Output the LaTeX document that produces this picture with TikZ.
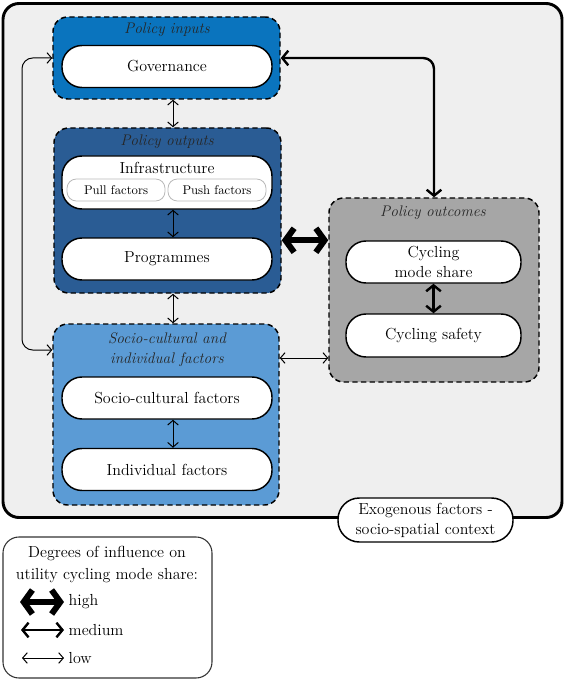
\documentclass[tikz,border=0pt]{standalone}
\usetikzlibrary{arrows.meta,positioning}

\definecolor{inblue}{RGB}{10,116,190}
\definecolor{outblue}{RGB}{42,92,148}
\definecolor{socblue}{RGB}{91,155,213}
\definecolor{outgray}{RGB}{166,166,166}
\definecolor{exogray}{RGB}{239,239,239}

\tikzset{
	pill/.style={draw, fill=white, line width=1.1pt, rounded corners=15pt, minimum width=210*0.75pt, minimum height=42*0.75pt, inner sep=0pt, align=center, font=\fontsize{12}{15}\selectfont},
	subpill/.style={draw=gray!55, fill=white, line width=0.6pt, rounded corners=7pt, minimum width=98*0.75pt, minimum height=22*0.75pt, inner sep=0pt, font=\fontsize{9.5}{11}\selectfont},
	groupbox/.style={draw, dash pattern=on 4pt off 2.5pt, line width=1.1pt, rounded corners=11pt, inner sep=0pt},
	grouplabel/.style={align=center, text=black!85, font=\fontsize{11.5}{15}\selectfont\itshape},
	low/.style={line width=0.75pt, >={Straight Barb[length=3.5pt,width=8pt]}, <->},
	medium/.style={line width=1.8pt, >={Straight Barb[length=4.5pt,width=11pt]}, <->},
	high/.style={line width=4.5pt, line join=miter, >={Straight Barb[length=6.5pt,width=18pt]}, <->},
}

\begin{document}
\begin{tikzpicture}[x=0.75pt, y=-0.75pt, line join=round]
				\useasboundingbox (0,0) rectangle (567,681);
				
				% Exogenous context (outer frame)
				\node[draw, fill=exogray, line width=2.2pt, rounded corners=12pt, minimum width=559*0.75pt, minimum height=514*0.75pt] (exo) at (282.5,260.5) {};
				
				% Group boxes
				\node[groupbox, fill=inblue, minimum width=227*0.75pt, minimum height=82*0.75pt] (inputs) at (166.5,58) {};
				\node[groupbox, fill=outblue, minimum width=227*0.75pt, minimum height=165*0.75pt] (outputs) at (167.5,210.5) {};
				\node[groupbox, fill=socblue, minimum width=226*0.75pt, minimum height=181*0.75pt] (socio) at (166,414.5) {};
				\node[groupbox, fill=outgray, minimum width=210*0.75pt, minimum height=184*0.75pt] (outcomes) at (434,290) {};
				
				% Group labels
				\node[grouplabel] (inlabel) at (167,30) {Policy inputs};
				\node[grouplabel] (outlabel) at (167,142) {Policy outputs};
				\node[grouplabel] (soclabel) at (167,350) {Socio-cultural and\\individual factors};
				\node[grouplabel] (oclabel) at (433,213) {Policy outcomes};
				
				% Factor boxes
				\node[pill] (gov) at (167,66.5) {Governance};
				\node[pill, minimum height=53*0.75pt] (infra) at (167,182.5) {};
				\node[font=\fontsize{12}{15}\selectfont] (infratext) at (167,168) {Infrastructure};
				\node[subpill] (pull) at (116,190) {Pull factors};
				\node[subpill] (push) at (217,190) {Push factors};
				\node[pill] (prog) at (167,259) {Programmes};
				\node[pill] (scf) at (167,398) {Socio-cultural factors};
				\node[pill] (ind) at (167,469.5) {Individual factors};
				\node[pill, minimum width=175*0.75pt] (share) at (433.5,262) {Cycling\\mode share};
				\node[pill, minimum width=175*0.75pt, minimum height=43*0.75pt] (safety) at (433.5,335.5) {Cycling safety};
				
				% Exogenous label
				\node[pill, minimum width=175*0.75pt, minimum height=44*0.75pt, rounded corners=16pt] (exolabel) at (425.5,520) {Exogenous factors -\\socio-spatial context};
				
				% Helper coordinates for the connectors
				\coordinate (axis) at (173,0);    % vertical arrows on the left column
				\coordinate (loop) at (22,200);   % left feedback line
				\coordinate (lowrow) at (300,358); % socio <-> outcomes
				
				% Connectors
				\draw[low] (inputs.south -| axis) -- (outputs.north -| axis);
				\draw[low] (infra.south -| axis) -- (prog.north -| axis);
				\draw[low] (outputs.south -| axis) -- (socio.north -| axis);
				\draw[low] (scf.south -| axis) -- (ind.north -| axis);
				\draw[low, rounded corners=8pt] (inputs.west) -| (loop) |- (socio.west |- soclabel);
				\draw[low] (socio.east |- lowrow) -- (outcomes.west |- lowrow);
				\draw[medium, rounded corners=8pt] (inputs.east) -| (outcomes.north);
				\draw[medium] (share.south) -- (safety.north);
				\draw[high] (outputs.east |- share.north) -- (outcomes.west |- share.north);
				
				% Legend
				\node[draw=black!80, line width=0.8pt, rounded corners=12pt, minimum width=209*0.75pt, minimum height=141*0.75pt] (legend) at (107.5,607.5) {};
				\node[align=center, font=\fontsize{12}{17}\selectfont] (legtitle) at (107,564.5) {Degrees of influence on\\utility cycling mode share:};
				\node[anchor=west, font=\fontsize{12}{15}\selectfont] (hitxt) at (64,602) {high};
				\node[anchor=west, font=\fontsize{12}{15}\selectfont] (medtxt) at (64,630) {medium};
				\node[anchor=west, font=\fontsize{12}{15}\selectfont] (lotxt) at (64,658) {low};
				\coordinate (hiS) at (20,602);
				\coordinate (medS) at (21,630);
				\coordinate (loS) at (22,658);
				\draw[high] (hiS) -- (hitxt.west);
				\draw[medium] (medS) -- (medtxt.west);
				\draw[low] (loS) -- (lotxt.west);
			\end{tikzpicture}
\end{document}
